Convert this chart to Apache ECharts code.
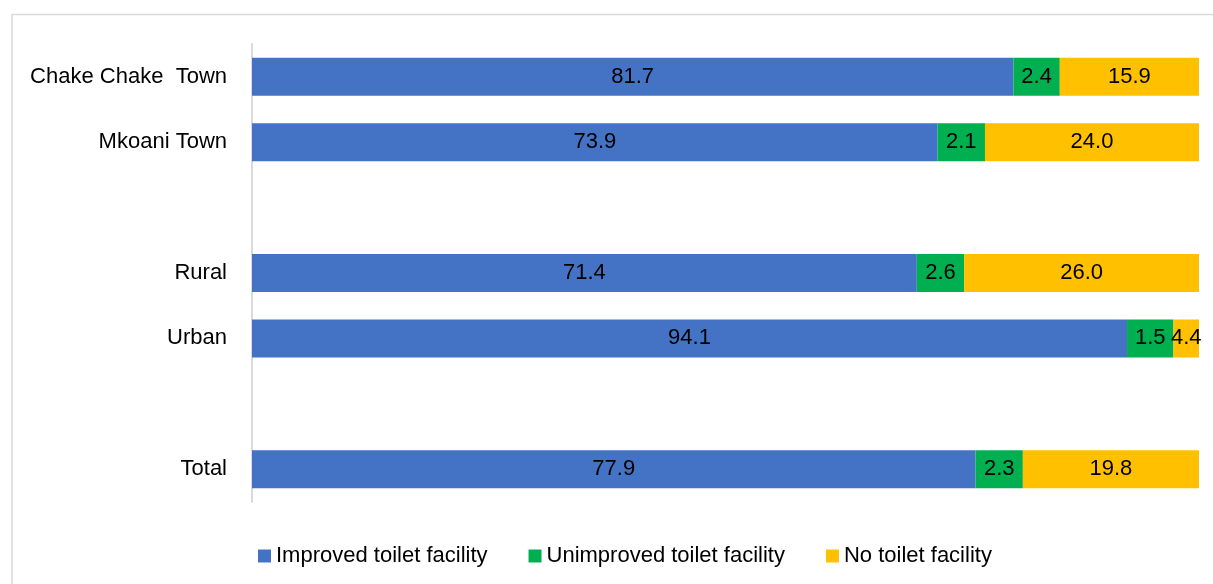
<!DOCTYPE html>
<html>
<head>
<meta charset="utf-8">
<script src="https://cdn.jsdelivr.net/npm/echarts@6/dist/echarts.min.js"></script>
<style>html,body{margin:0;padding:0;background:#fff}#c{width:1213px;height:584px}</style>
</head>
<body>
<div id="c"></div>
<script>
// Categories, top to bottom ('' = empty spacer rows in the original)
const categories = ['Chake Chake  Town', 'Mkoani Town', '', 'Rural', 'Urban', '', 'Total'];
const seriesNames = ['Improved toilet facility', 'Unimproved toilet facility', 'No toilet facility'];

// Printed data labels (percent)
const improvedLabels   = ['81.7', '73.9', '', '71.4', '94.1', '', '77.9'];
const unimprovedLabels = ['2.4',  '2.1',  '', '2.6',  '1.5',  '', '2.3'];
const noneLabels       = ['15.9', '24.0', '', '26.0', '4.4',  '', '19.8'];

// Segment lengths as drawn in the picture (percent of the 100% bar)
const improved   = [80.4, 72.4, null, 70.2, 92.4, null, 76.4];
const unimproved = [4.9,  5.0,  null, 5.0,  4.9,  null, 5.0];
const none       = [14.7, 22.6, null, 24.8, 2.7,  null, 18.6];

const colors = ['#4472C4', '#00B050', '#FFC000'];
const FONT = "'Liberation Sans', Arial, sans-serif";

function mk(name, data, labels, color) {
  return {
    name: name,
    type: 'bar',
    stack: 'total',
    data: data,
    barWidth: 38,
    itemStyle: { color: color },
    label: {
      show: true,
      position: 'inside',
      color: '#000',
      fontFamily: FONT,
      fontSize: 22,
      formatter: p => labels[p.dataIndex]
    },
    labelLayout: { hideOverlap: false },
    emphasis: { disabled: true }
  };
}

const chart = echarts.init(document.getElementById('c'), null, { renderer: 'canvas' });
chart.setOption({
  animation: false,
  backgroundColor: '#fff',
  textStyle: { fontFamily: FONT },
  graphic: [{
    type: 'rect',
    shape: { x: 12, y: 14.5, width: 1300, height: 700 },
    style: { fill: 'none', stroke: '#d9d9d9', lineWidth: 1.5 },
    silent: true,
    z: -10
  }],
  grid: { left: 252, right: 14, top: 44, bottom: 82, containLabel: false, outerBoundsMode: 'none' },
  xAxis: { type: 'value', min: 0, max: 100, show: false },
  yAxis: {
    type: 'category',
    data: categories,
    inverse: true,
    axisLine: { show: true, lineStyle: { color: '#d9d9d9', width: 2 } },
    axisTick: { show: false },
    axisLabel: { color: '#000', fontFamily: FONT, fontSize: 22, margin: 25 }
  },
  legend: {
    data: seriesNames,
    left: 253,
    top: 540,
    icon: 'rect',
    itemWidth: 13,
    itemHeight: 13,
    itemGap: 41,
    textStyle: { color: '#000', fontFamily: FONT, fontSize: 22, lineHeight: 22 }
  },
  series: [
    mk(seriesNames[0], improved, improvedLabels, colors[0]),
    mk(seriesNames[1], unimproved, unimprovedLabels, colors[1]),
    mk(seriesNames[2], none, noneLabels, colors[2])
  ]
});
</script>
</body>
</html>
